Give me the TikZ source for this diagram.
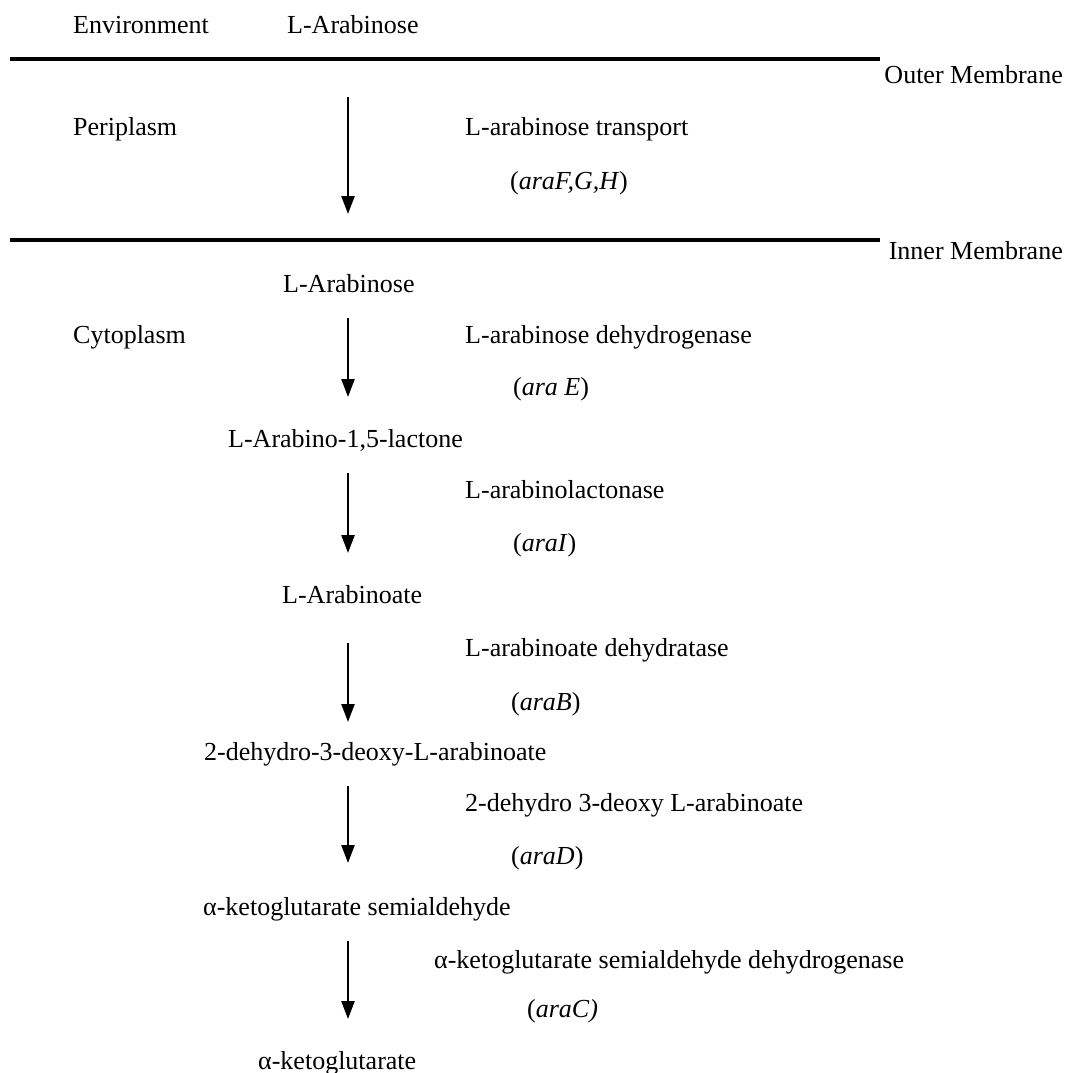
\documentclass[tikz,border=0pt]{standalone}
\usepackage{fontspec}
\setmainfont{Liberation Serif}
\usetikzlibrary{arrows.meta}
\begin{document}
\begin{tikzpicture}[x=1pt,y=-1pt,
  lbl/.style={inner sep=0pt,text height=18pt,text depth=5pt,font=\fontsize{26}{30}\selectfont},
  lw/.style={lbl,anchor=west},
  le/.style={lbl,anchor=east},
  membrane/.style={line width=3.5pt},
  flow/.style={line width=2.4pt,-{Triangle[width=13pt,length=18pt]}}]
\useasboundingbox (0,0) rectangle (1068,1073);
% header
\node[lw] (env) at (73,27) {Environment};
\node[lw] (arab0) at (287,27) {L-Arabinose};
% membranes
\coordinate (om1) at (10,59);
\coordinate (om2) at (880,59);
\draw[membrane] (om1) -- (om2);
\node[le] (outer) at (1063,77) {Outer Membrane};
\coordinate (im1) at (10,240);
\coordinate (im2) at (880,240);
\draw[membrane] (im1) -- (im2);
\node[le] (inner) at (1063,253) {Inner Membrane};
% compartments
\node[lw] (peri) at (73,129) {Periplasm};
\node[lw] (cyto) at (73,337) {Cytoplasm};
% transport
\node[lw] (e1) at (465,129) {L-arabinose transport};
\node[lw] (g1) at (510,183) {(\textit{araF,G,H})};
\coordinate (a1s) at (348,97);
\coordinate (a1e) at (348,214);
\draw[flow] (a1s) -- (a1e);
% compounds
\node[lw] (c1) at (283,286) {L-Arabinose};
\node[lw] (c2) at (228,441) {L-Arabino-1,5-lactone};
\node[lw] (c3) at (282,597) {L-Arabinoate};
\node[lw] (c4) at (204,754) {2-dehydro-3-deoxy-L-arabinoate};
\node[lw] (c5) at (203,909) {α-ketoglutarate semialdehyde};
\node[lw] (c6) at (258,1063) {α-ketoglutarate};
% enzymes
\node[lw] (e2) at (465,337) {L-arabinose dehydrogenase};
\node[lw] (g2) at (513,389) {(\textit{ara E})};
\node[lw] (e3) at (465,492) {L-arabinolactonase};
\node[lw] (g3) at (513,545) {(\textit{araI})};
\node[lw] (e4) at (465,650) {L-arabinoate dehydratase};
\node[lw] (g4) at (511,704) {(\textit{araB})};
\node[lw] (e5) at (465,805) {2-dehydro 3-deoxy L-arabinoate};
\node[lw] (g5) at (511,858) {(\textit{araD})};
\node[lw] (e6) at (434,962) {α-ketoglutarate semialdehyde dehydrogenase};
\node[lw] (g6) at (527,1011) {(\textit{araC)}};
% arrows
\coordinate (a2s) at (348,318);
\coordinate (a2e) at (348,397);
\draw[flow] (a2s) -- (a2e);
\coordinate (a3s) at (348,473);
\coordinate (a3e) at (348,553);
\draw[flow] (a3s) -- (a3e);
\coordinate (a4s) at (348,643);
\coordinate (a4e) at (348,722);
\draw[flow] (a4s) -- (a4e);
\coordinate (a5s) at (348,786);
\coordinate (a5e) at (348,863);
\draw[flow] (a5s) -- (a5e);
\coordinate (a6s) at (348,941);
\coordinate (a6e) at (348,1019);
\draw[flow] (a6s) -- (a6e);
\end{tikzpicture}
\end{document}
